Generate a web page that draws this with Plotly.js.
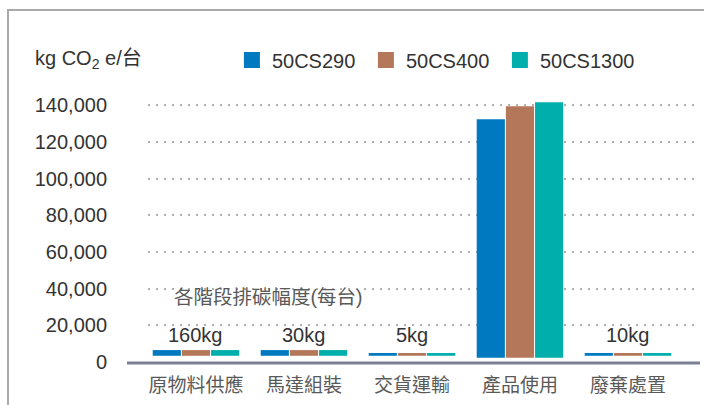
<!DOCTYPE html>
<html>
<head>
<meta charset="utf-8">
<script src="https://cdn.plot.ly/plotly-3.0.1.min.js"></script>
<style>
html,body{margin:0;padding:0;background:#fff;overflow:hidden;}
#chart{width:704px;height:405px;}
#frame{position:absolute;left:7px;top:9px;width:700px;height:400px;border-left:2px solid #aaaaaa;border-top:2px solid #aaaaaa;pointer-events:none;}
</style>
</head>
<body>
<div id="chart"></div>
<div id="frame"></div>
<script>
// ---- data ----
var categories = ['原物料供應', '馬達組裝', '交貨運輸', '產品使用', '廢棄處置'];
var seriesNames = ['50CS290', '50CS400', '50CS1300'];
// bar bottoms and tops as drawn (kg CO2e / unit, axis units)
var barBase   = [3400, 3400, 3400, 2300, 3400];
var top50CS290  = [6500, 6500, 4900, 132400, 4900];
var top50CS400  = [6500, 6500, 4900, 139500, 4900];
var top50CS1300 = [6500, 6500, 4900, 141700, 4900];
var stageLabels = ['160kg', '30kg', '5kg', '', '10kg'];
var labelY = [15000, 15000, 15000, 15000, 15000];
var yTickVals = [0, 20000, 40000, 60000, 80000, 100000, 120000, 140000];
var yTickText = ['0', '20,000', '40,000', '60,000', '80,000', '100,000', '120,000', '140,000'];
var colors = ['#0079c1', '#b5775a', '#00afac'];

var LATIN = 'Liberation Sans, Arial, Noto Sans CJK TC, sans-serif';
var CJK = 'Liberation Sans, Noto Sans CJK TC, sans-serif';

function heights(tops) { return tops.map(function (t, i) { return t - barBase[i]; }); }
var tops = [top50CS290, top50CS400, top50CS1300];

var traces = [];
tops.forEach(function (t, k) {
  traces.push({
    type: 'bar', name: seriesNames[k], x: categories, y: heights(t), base: barBase,
    marker: { color: colors[k] }, showlegend: false, hoverinfo: 'skip'
  });
});
// legend entries
tops.forEach(function (t, k) {
  traces.push({
    type: 'scatter', mode: 'markers', name: seriesNames[k], x: [null], y: [null],
    marker: { color: colors[k], symbol: 'square', size: 16 }, showlegend: true, hoverinfo: 'skip'
  });
});

var annotations = [
  { text: 'kg CO<sub>2</sub> e/台', xref: 'paper', yref: 'paper', x: -0.2083, y: 1.1306,
    xanchor: 'left', yanchor: 'middle', showarrow: false, font: { family: CJK, size: 20, color: '#333333' } },
  { text: '各階段排碳幅度(每台)', xref: 'paper', yref: 'paper', x: 0.0435, y: 0.246,
    xanchor: 'left', yanchor: 'middle', showarrow: false, font: { family: CJK, size: 19.5, color: '#595959' } }
];
categories.forEach(function (c, i) {
  if (stageLabels[i]) {
    annotations.push({ text: stageLabels[i], xref: 'x', yref: 'y', x: c, y: labelY[i],
      xanchor: 'center', yanchor: 'middle', showarrow: false,
      font: { family: LATIN, size: 20, color: '#333333' } });
  }
});

var layout = {
  width: 704, height: 405,
  margin: { l: 148, r: 4, t: 95, b: 42, pad: 0 },
  paper_bgcolor: '#ffffff', plot_bgcolor: '#ffffff',
  barmode: 'group', bargap: 0.19, bargroupgap: 0.034,
  showlegend: true,
  legend: { orientation: 'h', x: 0.152, y: 1.1306, xanchor: 'left', yanchor: 'middle',
    font: { family: LATIN, size: 20, color: '#333333' }, entrywidth: 89, entrywidthmode: 'pixels',
    bgcolor: 'rgba(0,0,0,0)', itemclick: false },
  xaxis: { type: 'category', range: [-0.444, 4.667], showgrid: false, zeroline: false, showline: false,
    ticks: '', tickfont: { family: 'Noto Sans CJK TC, sans-serif', size: 19, color: '#595959' },
    ticklabelstandoff: 9, fixedrange: true },
  yaxis: { range: [-545, 145620], tickvals: yTickVals, ticktext: yTickText, showline: false,
    zeroline: false, showgrid: true, gridcolor: '#b0b0b0', gridwidth: 2, griddash: '2px,6px',
    ticks: '', tickfont: { family: LATIN, size: 20, color: '#333333' }, ticklabelstandoff: 40, fixedrange: true },
  shapes: [
    { type: 'line', xref: 'paper', yref: 'paper', x0: -0.038, x1: 1, y0: 0, y1: 0,
      line: { color: '#7b8094', width: 3 } }
  ],
  annotations: annotations
};

Plotly.newPlot('chart', traces, layout, { displayModeBar: false, staticPlot: true });
</script>
</body>
</html>
